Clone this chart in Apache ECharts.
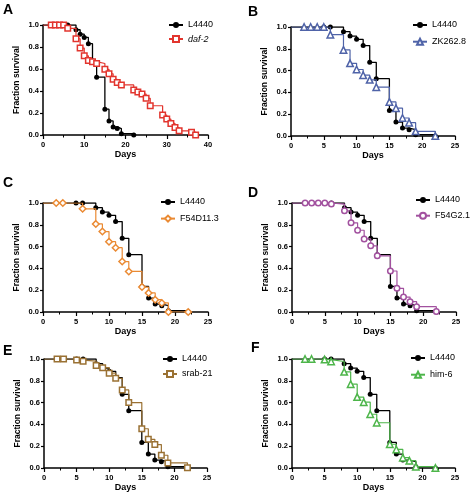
<!DOCTYPE html>
<html><head><meta charset="utf-8">
<script src="https://cdn.jsdelivr.net/npm/echarts@6/dist/echarts.min.js"></script>
<style>html,body{margin:0;padding:0;background:#fff}#c{width:470px;height:497px}</style>
</head><body><div id="c"></div>
<script>
// ---- data ----
const l4440Days = [0,5,6,8,9,10,11,12,13,15,16,17,18,19,22];
const l4440Surv = [1,1,1,0.957,0.917,0.887,0.83,0.676,0.526,0.235,0.128,0.073,0.058,0.012,0];

const daf2Days = [0,2,3,4,5,6,8,9,10,11,12,13,15,16,17,18,19,22,23,24,25,26,29,30,31,32,33,36,37];
const daf2Surv = [1,1,1,1,1,0.97,0.875,0.79,0.72,0.677,0.667,0.65,0.597,0.557,0.507,0.477,0.455,0.41,0.392,0.372,0.333,0.266,0.182,0.145,0.105,0.068,0.038,0.025,0];

const zkDays = [0,2,3,4,5,6,8,9,10,11,12,13,15,16,17,18,19,22];
const zkSurv = [1,1,1,1,1,0.93,0.79,0.667,0.61,0.558,0.515,0.448,0.313,0.255,0.165,0.122,0.043,0];

const f54dDays = [0,2,3,6,8,9,10,11,12,13,15,16,17,18,19,22];
const f54dSurv = [1,1,1,0.947,0.808,0.738,0.645,0.59,0.463,0.372,0.229,0.175,0.113,0.083,0.0,0];

const f54gDays = [0,2,3,4,5,6,8,9,10,11,12,13,15,16,17,18,19,22];
const f54gSurv = [1,1,1,1,1,0.99,0.928,0.818,0.75,0.67,0.607,0.515,0.376,0.217,0.137,0.095,0.049,0.005];

const srabDays = [0,2,3,5,6,8,9,10,11,12,13,15,16,17,18,19,22];
const srabSurv = [1,1,1,0.99,0.98,0.94,0.92,0.87,0.823,0.716,0.6,0.36,0.263,0.215,0.117,0.047,0.003];

const him6Days = [0,2,3,5,6,8,9,10,11,12,13,15,16,17,18,19,22];
const him6Surv = [1,1,1,0.995,0.977,0.882,0.769,0.651,0.604,0.493,0.415,0.218,0.17,0.095,0.067,0.012,0];

const panelLetters = ['A','B','C','D','E','F'];
const treatNames = ['daf-2','ZK262.8','F54D11.3','F54G2.1','srab-21','him-6'];
const xMaxes = [40,25,25,25,25,25];
const xIntervals = [10,5,5,5,5,5];

// ---- layout / style ----
const FONT = "'Liberation Sans', Arial, sans-serif";
const grids = [
  {left:43, top:25, width:165, height:110},
  {left:291, top:27, width:164, height:109},
  {left:43, top:203, width:165, height:109},
  {left:292, top:203, width:164, height:109},
  {left:44, top:359, width:163, height:109},
  {left:292, top:359, width:163, height:109}
];
const treatColors = ['#e2352e','#4f63a8','#ea8a33','#a2519f','#9a7133','#4db54a'];
const treatSymbols = ['rect','triangle','diamond','circle','rect','triangle'];
const treatSizes = [5.5,6.5,6.5,5.5,5.5,6.5];
const treatData = [[daf2Days,daf2Surv],[zkDays,zkSurv],[f54dDays,f54dSurv],[f54gDays,f54gSurv],[srabDays,srabSurv],[him6Days,him6Surv]];
const legendPos = [
  {left:168, top:20, gap:4},
  {left:412, top:20, gap:6.7},
  {left:160, top:197, gap:6.6},
  {left:415, top:195, gap:5.7},
  {left:162, top:354, gap:5},
  {left:410, top:353, gap:6.7}
];
const letterPos = [[3,3],[248,5],[3,176],[248,186],[3,344],[251,341]];

function pts(days, surv){
  return days.map((d,i)=> i===0 ? {value:[d,surv[i]], symbol:'none'} : [d,surv[i]]);
}

const xAxes = [], yAxes = [], series = [], legends = [], graphics = [];
grids.forEach((g,i)=>{
  xAxes.push({
    gridIndex:i, type:'value', min:0, max:xMaxes[i], interval:xIntervals[i],
    name:'Days', nameLocation:'middle', nameGap:15,
    nameTextStyle:{fontFamily:FONT, fontWeight:'bold', fontSize:9, color:'#000'},
    axisLine:{show:true, onZero:false, lineStyle:{color:'#000', width:1.5}},
    axisTick:{show:true, length:4, lineStyle:{color:'#000', width:1.2}},
    minorTick:{show:true, splitNumber:2, length:2.5, lineStyle:{color:'#000', width:1}},
    axisLabel:{fontFamily:FONT, fontWeight:'bold', fontSize:7.5, color:'#000', margin:6},
    splitLine:{show:false}, minorSplitLine:{show:false}
  });
  yAxes.push({
    gridIndex:i, type:'value', min:0, max:1, interval:0.2,
    name:'Fraction survival', nameLocation:'middle', nameGap:22,
    nameTextStyle:{fontFamily:FONT, fontWeight:'bold', fontSize:8.5, color:'#000'},
    axisLine:{show:true, onZero:false, lineStyle:{color:'#000', width:1.5}},
    axisTick:{show:true, length:3, lineStyle:{color:'#000', width:1.2}},
    axisLabel:{fontFamily:FONT, fontWeight:'bold', fontSize:7.5, color:'#000', margin:4,
      formatter:(v)=>v.toFixed(1)},
    splitLine:{show:false}
  });
  series.push({
    type:'line', name:'L4440', xAxisIndex:i, yAxisIndex:i, step:'end',
    data:pts(l4440Days,l4440Surv), symbol:'circle', symbolSize:5,
    itemStyle:{color:'#000'}, lineStyle:{color:'#000', width:1.3},
    silent:true, z:2
  });
  const c = treatColors[i];
  series.push({
    type:'line', name:treatNames[i], xAxisIndex:i, yAxisIndex:i, step:'end',
    data:pts(treatData[i][0], treatData[i][1]), symbol:treatSymbols[i], symbolSize:treatSizes[i],
    itemStyle:{color:'#fff', borderColor:c, borderWidth:1.5},
    lineStyle:{color:c, width:1.2},
    silent:true, z:3
  });
  const lp = legendPos[i];
  legends.push({
    left:lp.left, top:lp.top, orient:'vertical', itemGap:lp.gap, padding:0,
    itemWidth:14, itemHeight:7.5, selectedMode:false,
    textStyle:{fontFamily:FONT, fontSize:9, color:'#000', lineHeight:10},
    data:[ {name:'L4440'}, i===0 ? {name:treatNames[i], textStyle:{fontStyle:'italic'}} : {name:treatNames[i]} ]
  });
  graphics.push({
    type:'text', left:letterPos[i][0], top:letterPos[i][1],
    style:{text:panelLetters[i], fontFamily:FONT, fontWeight:'bold', fontSize:14, fill:'#000'}
  });
});

const chart = echarts.init(document.getElementById('c'), null, {renderer:'canvas'});
chart.setOption({
  animation:false,
  backgroundColor:'#fff',
  grid:grids,
  xAxis:xAxes,
  yAxis:yAxes,
  legend:legends,
  series:series,
  graphic:graphics
});
</script>
</body></html>
